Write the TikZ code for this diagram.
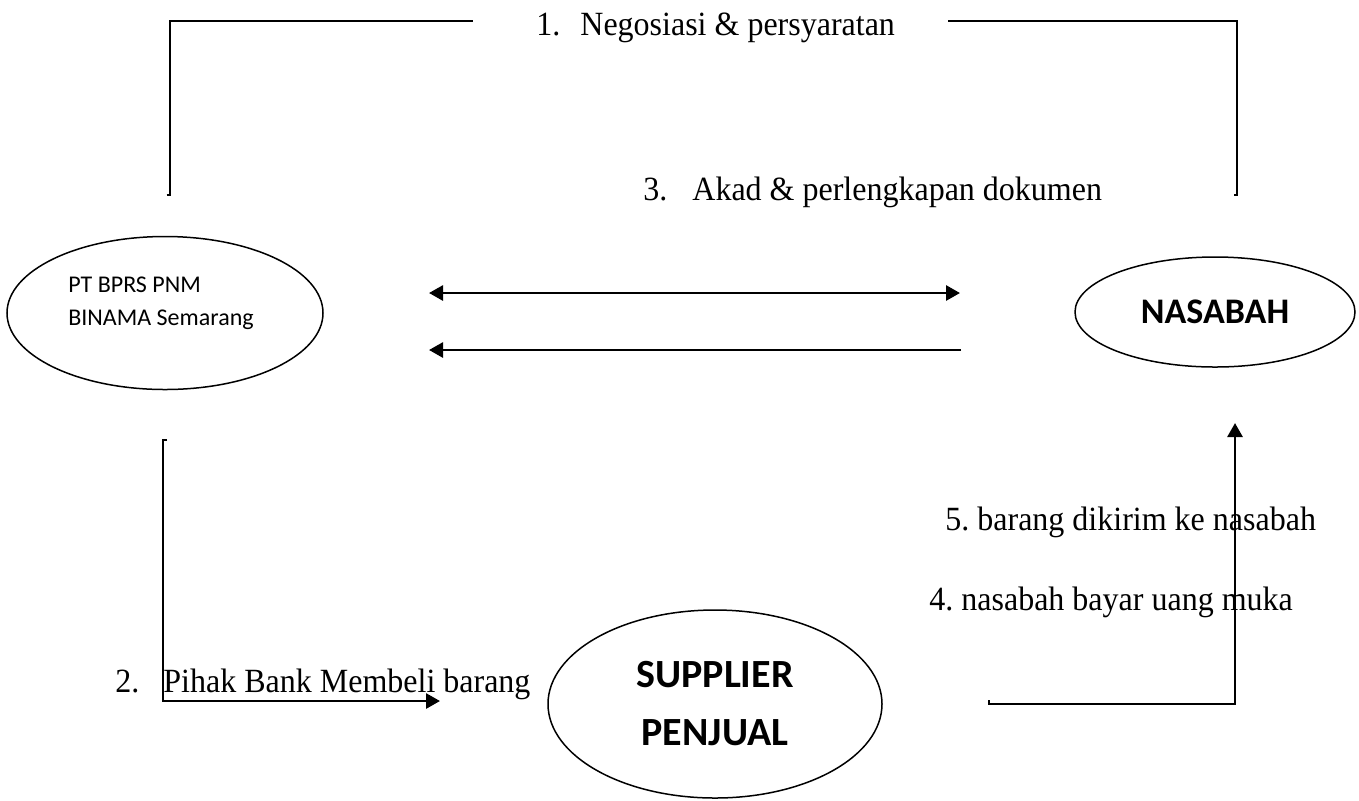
\documentclass[tikz,border=0pt]{standalone}
\usepackage{fontspec}
\setmainfont{Liberation Serif}
\newfontfamily\calibri{Carlito}
\usetikzlibrary{arrows.meta,shapes.geometric}
\frenchspacing
\newcommand{\tallish}[1]{\scalebox{1}[1.06]{#1}}
\begin{document}
\begin{tikzpicture}[x=0.5pt,y=-0.5pt,
  thinline/.style={line width=1pt},
  thickline/.style={line width=1.4pt},
  tip/.style={-{Triangle[length=7pt,width=7.5pt]}},
  entity/.style={draw,ellipse,line width=0.75pt,inner sep=0pt},
  steplabel/.style={anchor=base west,inner sep=0pt,font=\fontsize{16pt}{19pt}\selectfont}
]
\useasboundingbox (0,0) rectangle (1359,800);
% entities
\node[entity,minimum width=158pt,minimum height=76.5pt] (bank) at (165,313) {};
\node[align=left,anchor=center,inner sep=0pt,font=\calibri\fontsize{12pt}{16.5pt}\selectfont] (banktext) at (161,303) {PT BPRS PNM\\BINAMA Semarang};
\node[entity,minimum width=140pt,minimum height=55pt,font=\calibri\bfseries\fontsize{18pt}{22pt}\selectfont] (nasabah) at (1215,312) {NASABAH};
\node[entity,minimum width=167pt,minimum height=94pt,align=center,font=\calibri\bfseries\fontsize{20pt}{29pt}\selectfont] (supplier) at (715,704) {SUPPLIER\\PENJUAL};
% labels
\node[steplabel] (l1) at (536,35) {\tallish{1.\hspace{10pt}Negosiasi \& persyaratan}};
\node[steplabel] (l3) at (643,200) {\tallish{3.\hspace{12.5pt}Akad \& perlengkapan dokumen}};
\node[steplabel] (l2) at (115,692) {\tallish{2.\hspace{12pt}Pihak Bank Membeli barang}};
\node[steplabel] (l5) at (945,530) {\tallish{5. barang dikirim ke nasabah}};
\node[steplabel] (l4) at (929,610) {\tallish{4. nasabah bayar uang muka}};
% coordinates
\coordinate (a1s) at (166.5,195);
\coordinate (a1a) at (170,195);
\coordinate (a1b) at (170,21);
\coordinate (a1c) at (473,21);
\coordinate (a1d) at (948,21);
\coordinate (a1e) at (1237,21);
\coordinate (a1f) at (1237,195);
\coordinate (a1g) at (1233.5,195);
\coordinate (u1) at (429,293);
\coordinate (u2) at (960,293);
\coordinate (w1) at (961,350);
\coordinate (w2) at (429,350);
\coordinate (b0) at (167,440);
\coordinate (b1) at (163,440);
\coordinate (b2) at (163,701);
\coordinate (b3) at (440,701);
\coordinate (c0) at (989,700);
\coordinate (c1) at (989,704);
\coordinate (c2) at (1235,704);
\coordinate (c3) at (1235,423);
% connectors
\draw[thinline] (a1s) -- (a1a) -- (a1b) -- (a1c);
\draw[thinline] (a1d) -- (a1e) -- (a1f) -- (a1g);
\draw[thickline,{Triangle[length=7pt,width=7.5pt]}-{Triangle[length=7pt,width=7.5pt]}] (u1) -- (u2);
\draw[thickline,tip] (w1) -- (w2);
\draw[thickline,tip] (b0) -- (b1) -- (b2) -- (b3);
\draw[thickline,tip] (c0) -- (c1) -- (c2) -- (c3);
\end{tikzpicture}
\end{document}
